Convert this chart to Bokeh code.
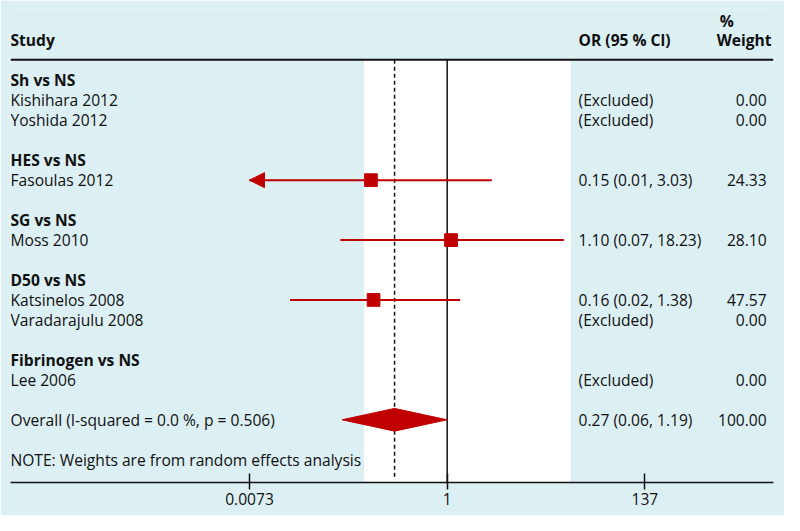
import math
from bokeh.plotting import figure
from bokeh.models import Range1d, LogScale, LogAxis, FixedTicker, Arrow, NormalHead, Span
from bokeh.core.properties import value
from bokeh.embed import file_html
from bokeh.resources import INLINE

# ---------------- data ----------------
groups = ["Sh vs NS", "HES vs NS", "SG vs NS", "D50 vs NS", "Fibrinogen vs NS"]
group_rows = [0, 4, 7, 10, 14]

studies = ["Kishihara 2012", "Yoshida 2012", "Fasoulas 2012", "Moss 2010",
           "Katsinelos 2008", "Varadarajulu 2008", "Lee 2006"]
study_rows = [1, 2, 5, 8, 11, 12, 15]
or_labels = ["(Excluded)", "(Excluded)", "0.15 (0.01, 3.03)", "1.10 (0.07, 18.23)",
             "0.16 (0.02, 1.38)", "(Excluded)", "(Excluded)"]
weight_labels = ["0.00", "0.00", "24.33", "28.10", "47.57", "0.00", "0.00"]

# estimated studies (point estimate and 95% CI)
est_rows = [5, 8, 11]
est_or = [0.15, 1.10, 0.16]
est_lo = [0.006, 0.07, 0.02]
est_hi = [3.03, 18.23, 1.38]

overall_label = "Overall (I-squared = 0.0 %, p = 0.506)"
overall_row = 17
overall_or = 0.27
overall_lo = 0.073
overall_hi = 1.0
overall_or_label = "0.27 (0.06, 1.19)"
overall_weight = "100.00"

note_label = "NOTE: Weights are from random effects analysis"
note_row = 19

axis_ticks = [0.0073, 1, 137]
axis_tick_labels = ["0.0073", "1", "137"]

# ---------------- style / layout ----------------
BG = "#dceff3"
RED = "#c00000"
INK = "#111111"
FONT = "Open Sans"
FS = "15.6px"

W, H = 784, 515
SX, SY = W / 800, H / 531   # reference-pixel to figure-pixel

ROW0 = 82.0       # reference pixel of row 0
ROW_STEP = 20.58  # reference pixels per row
def row_of(py):
    return (py - ROW0) / ROW_STEP

FRAME_L, FRAME_R = 10, 789
FRAME_T, FRAME_B = 8, 496.5
HEADER_LINE = 60.7
PX_ONE = 455.85     # reference pixel of OR = 1
PX_PER_LN = 41.03   # reference pixels per ln unit

p = figure(width=W, height=H, output_backend="svg", toolbar_location=None,
           x_range=Range1d(FRAME_L, FRAME_R),
           y_range=Range1d(row_of(FRAME_B), row_of(FRAME_T)),
           x_axis_type=None, y_axis_type=None,
           min_border_left=round(FRAME_L * SX), min_border_right=W - round(FRAME_R * SX),
           min_border_top=round(FRAME_T * SY), min_border_bottom=H - round(FRAME_B * SY))
p.background_fill_color = BG
p.border_fill_color = BG
p.outline_line_color = None
p.grid.visible = False

p.extra_x_ranges = {"or": Range1d(math.exp((FRAME_L - PX_ONE) / PX_PER_LN),
                                  math.exp((FRAME_R - PX_ONE) / PX_PER_LN))}
p.extra_x_scales = {"or": LogScale()}

# white plotting band
p.quad(left=371, right=582, top=row_of(HEADER_LINE), bottom=row_of(FRAME_B),
       fill_color="white", line_color=None)

# header rule
p.add_layout(Span(location=row_of(HEADER_LINE), dimension="width",
                  line_color=INK, line_width=2))

# null line and overall line
p.segment(x0=[1], x1=[1], y0=[row_of(HEADER_LINE)], y1=[row_of(FRAME_B)],
          x_range_name="or", line_color=INK, line_width=1.5)
p.segment(x0=[overall_or], x1=[overall_or], y0=[row_of(HEADER_LINE)], y1=[row_of(FRAME_B - 3)],
          x_range_name="or", line_color=INK, line_width=1.5, line_dash="4 3")

# CIs
axis_min = axis_ticks[0]
lo_drawn = [max(v, axis_min) for v in est_lo]
p.segment(x0=lo_drawn, x1=est_hi, y0=est_rows, y1=est_rows,
          x_range_name="or", line_color=RED, line_width=2)
for v, r, h in zip(est_lo, est_rows, est_hi):
    if v < axis_min:
        p.add_layout(Arrow(x_start=h, x_end=axis_min, y_start=r, y_end=r,
                           x_range_name="or", line_alpha=0,
                           end=NormalHead(size=15, fill_color=RED, line_color=RED)))
p.scatter(x=est_or, y=est_rows, marker="square", size=12.7, color=RED, x_range_name="or")

# overall diamond
dh = 11.7 / ROW_STEP
p.patch(x=[overall_lo, overall_or, overall_hi, overall_or],
        y=[overall_row, overall_row - dh, overall_row, overall_row + dh],
        x_range_name="or", fill_color=RED, line_color=RED)

# texts
common = dict(text_font=value(FONT), text_font_size=FS, text_baseline="middle", text_color=INK)
hdr_y = row_of(40)
p.text(x=[10], y=[hdr_y], text=["Study"], text_font_style="bold", **common)
p.text(x=[590], y=[hdr_y], text=["OR (95 % Cl)"], text_font_style="bold", **common)
p.text(x=[787], y=[hdr_y], text=["Weight"], text_font_style="bold", text_align="right", **common)
p.text(x=[734], y=[row_of(21)], text=["%"], text_font_style="bold", **common)

p.text(x=[10] * len(groups), y=group_rows, text=groups, text_font_style="bold", **common)
p.text(x=[10] * len(studies), y=study_rows, text=studies, **common)
p.text(x=[590] * len(studies), y=study_rows, text=or_labels, **common)
p.text(x=[782] * len(studies), y=study_rows, text=weight_labels, text_align="right", **common)

p.text(x=[10], y=[overall_row], text=[overall_label], **common)
p.text(x=[590], y=[overall_row], text=[overall_or_label], **common)
p.text(x=[782], y=[overall_row], text=[overall_weight], text_align="right", **common)
p.text(x=[10], y=[note_row], text=[note_label], **common)

# axis
ax = LogAxis(x_range_name="or", ticker=FixedTicker(ticks=axis_ticks, minor_ticks=[]),
             major_label_overrides={t: l for t, l in zip(axis_ticks, axis_tick_labels)})
ax.axis_line_color = INK
ax.axis_line_width = 1.5
ax.major_tick_line_color = INK
ax.major_tick_line_width = 1.5
ax.major_tick_in = 9
ax.major_tick_out = 7
ax.minor_tick_in = 0
ax.minor_tick_out = 0
ax.major_label_standoff = 3
ax.major_label_text_font = FONT
ax.major_label_text_font_size = FS
ax.major_label_text_color = INK
p.add_layout(ax, "below")

open("out.html", "w").write(file_html(p, INLINE))
